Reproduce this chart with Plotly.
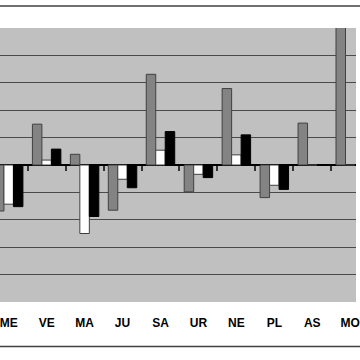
import plotly.graph_objects as go

categories = ["ME", "VE", "MA", "JU", "SA", "UR", "NE", "PL", "AS", "MO"]
series_gray = [-1.68, 1.49, 0.39, -1.65, 3.31, -0.98, 2.79, -1.19, 1.53, 5.08]
series_white = [-1.43, 0.18, -2.50, -0.52, 0.54, -0.34, 0.37, -0.74, 0.0, 0.0]
series_black = [-1.52, 0.58, -1.88, -0.83, 1.22, -0.46, 1.10, -0.89, 0.0, 0.0]

fig = go.Figure()
fig.add_trace(go.Bar(
    x=categories, y=series_gray, name="A",
    marker=dict(color="#858585",
                pattern=dict(shape=".", fgcolor="#5e5e5e", bgcolor="#8c8c8c", size=2, solidity=0.4),
                line=dict(color="#404040", width=1)),
))
fig.add_trace(go.Bar(
    x=categories, y=series_white, name="B",
    marker=dict(color="#ffffff", line=dict(color="#404040", width=1)),
))
fig.add_trace(go.Bar(
    x=categories, y=series_black, name="C",
    marker=dict(color="#000000", line=dict(color="#000000", width=1)),
))
# helper trace so the tick-only axis at zero knows the categories
fig.add_trace(go.Scatter(
    x=categories, y=[0] * len(categories), xaxis="x2", mode="markers",
    marker=dict(opacity=0), hoverinfo="skip", showlegend=False,
))

xr = [-0.229, 9.152]
fig.update_layout(
    width=360, height=360,
    margin=dict(l=0, r=0, t=28, b=58),
    paper_bgcolor="#ffffff",
    plot_bgcolor="#c0c0c0",
    barmode="group",
    bargap=0.25,
    bargroupgap=0,
    showlegend=False,
    xaxis=dict(
        type="category", categoryorder="array", categoryarray=categories,
        range=xr, showgrid=False, showline=False, zeroline=False,
        ticks="outside", ticklen=10, tickcolor="rgba(0,0,0,0)",
        tickfont=dict(family="Liberation Sans, Arial", size=12, color="#000000", weight="bold"),
    ),
    xaxis2=dict(
        type="category", categoryorder="array", categoryarray=categories,
        range=xr, overlaying="x", anchor="free", position=0.5, side="bottom",
        showgrid=False, showline=False, zeroline=False, showticklabels=False,
        ticks="outside", tickson="boundaries", ticklen=5, tickwidth=1.5, tickcolor="#333333",
    ),
    yaxis=dict(
        range=[-5, 5], dtick=1, showticklabels=False,
        showgrid=True, gridcolor="#4a4a4a", gridwidth=1,
        zeroline=True, zerolinecolor="#000000", zerolinewidth=2,
        showline=False,
    ),
    shapes=[
        dict(type="line", xref="paper", yref="paper", x0=-0.1, x1=1.1, y0=1.0803, y1=1.0803,
             line=dict(color="#404040", width=1.5)),
        dict(type="line", xref="paper", yref="paper", x0=-0.1, x1=1.1, y0=-0.162, y1=-0.162,
             line=dict(color="#404040", width=1.5)),
    ],
)

fig.write_html(
    "out.html",
    config={"displayModeBar": False},
    post_script="document.body.style.margin='0';document.body.style.overflow='hidden';",
)
